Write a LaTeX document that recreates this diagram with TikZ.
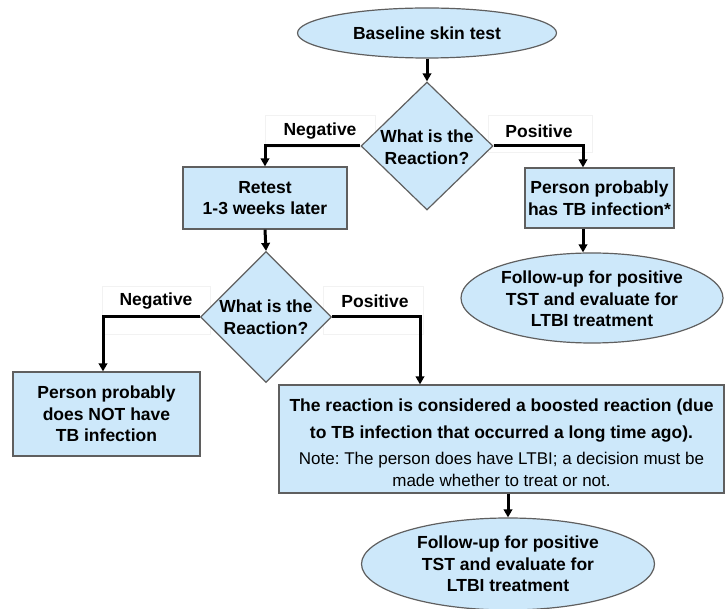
\documentclass[tikz,border=0pt]{standalone}
\usepackage{fontspec}
\setmainfont{Liberation Sans}
\frenchspacing
\usetikzlibrary{shapes.geometric,arrows.meta}
\definecolor{boxblue}{RGB}{205,232,250}
\definecolor{edgegray}{RGB}{95,95,95}
\tikzset{
  shapebase/.style={draw=edgegray, line width=1.2pt, fill=boxblue, inner sep=0pt},
  stepbox/.style={shapebase, rectangle},
  endoval/.style={shapebase, ellipse},
  choice/.style={shapebase, diamond},
  txt/.style={align=center, font=\fontsize{17.5}{21.5}\selectfont\bfseries, inner sep=0pt},
  lblbox/.style={draw=black!5, fill=white, line width=0.5pt},
  lbl/.style={font=\fontsize{17.5}{20}\selectfont\bfseries, inner sep=0pt},
  conn/.style={line width=3pt, -{Triangle[length=8pt,width=8.5pt]}},
}
\begin{document}
\begin{tikzpicture}[x=1pt,y=-1pt]
\useasboundingbox (0,0) rectangle (726,609);
% label backgrounds
\node[lblbox, minimum width=110, minimum height=32, anchor=north west] (nb1) at (265,115) {};
\node[lblbox, minimum width=104, minimum height=37, anchor=north west] (pb1) at (488,115) {};
\node[lblbox, minimum width=108, minimum height=48, anchor=north west] (nb2) at (102,286) {};
\node[lblbox, minimum width=100, minimum height=48, anchor=north west] (pb2) at (323,286) {};
% shapes
\node[endoval, minimum width=259, minimum height=50] (base) at (427,33) {};
\node[txt] (baset) at (base) {Baseline skin test};
\node[choice, minimum width=132, minimum height=128] (d1) at (427,146) {};
\node[txt] (d1t) at (427,147) {What is the\\Reaction?};
\node[stepbox, minimum width=164, minimum height=62] (retest) at (265,198) {};
\node[txt] (retestt) at (retest) {Retest\\1-3 weeks later};
\node[stepbox, minimum width=149, minimum height=60] (p1) at (599.5,198) {};
\node[txt] (p1t) at (p1) {Person probably\\has TB infection*};
\node[endoval, minimum width=262, minimum height=90] (f1) at (592,298) {};
\node[txt] (f1t) at (592,299) {Follow-up for positive\\TST and evaluate for\\LTBI treatment};
\node[choice, minimum width=131, minimum height=131] (d2) at (266,317) {};
\node[txt] (d2t) at (266,317) {What is the\\Reaction?};
\node[stepbox, minimum width=187, minimum height=84] (neg) at (106.5,414) {};
\node[txt] (negt) at (neg) {Person probably\\does NOT have\\TB infection};
\node[stepbox, minimum width=445, minimum height=108] (boost) at (501.5,439) {};
\node[txt, anchor=north] (boostt) at (501.5,399) {The reaction is considered a boosted reaction (due\\[5pt]to TB infection that occurred a long time ago).};
\node[txt, anchor=north, font=\fontsize{17}{21.5}\selectfont] (notet) at (501.5,452) {Note: The person does have LTBI; a decision must be\\made whether to treat or not.};
\node[endoval, minimum width=293, minimum height=92] (f2) at (508,564) {};
\node[txt] (f2t) at (508,564) {Follow-up for positive\\TST and evaluate for\\LTBI treatment};
% labels
\node[lbl] (n1) at (320,131) {Negative};
\node[lbl] (q1) at (539,131) {Positive};
\node[lbl] (n2) at (156,301) {Negative};
\node[lbl] (q2) at (375,301) {Positive};
% connectors
\draw[conn] (base.south) -- (d1.north);
\draw[conn] (d1.west) -| (retest.north);
\draw[conn] (d1.east) -| ([xshift=-16.5pt]p1.north);
\draw[conn] ([xshift=-16.5pt]p1.south) -- ([xshift=-16.5pt]p1.south |- f1.north);
\draw[conn] (retest.south) -- (d2.north);
\draw[conn] (d2.west) -| ([xshift=-3.5pt]neg.north);
\draw[conn] (d2.east) -| ([xshift=-81.5pt]boost.north);
\draw[conn] ([xshift=6.5pt]boost.south) -- (f2.north);
\end{tikzpicture}
\end{document}
